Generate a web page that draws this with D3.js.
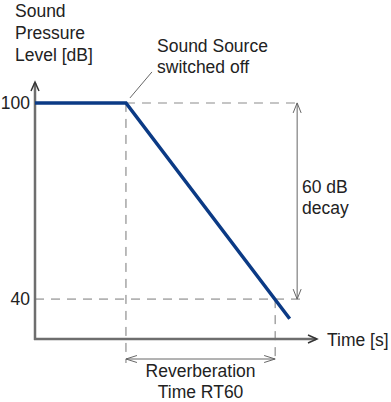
<!DOCTYPE html>
<html><head><meta charset="utf-8">
<script src="https://cdn.jsdelivr.net/npm/d3@7"></script>
<style>
html,body{margin:0;padding:0;background:#fff;}
text{font-family:"Liberation Sans",Arial,sans-serif;fill:#222;}
</style></head>
<body><svg id="c" width="391" height="402"></svg>
<script>
// Data
const times = [0, 1.0, 2.8];           // time (arbitrary units)
const levels = [100, 100, 34];         // sound pressure level [dB]
const levelTicks = [40, 100];
const switchOffTime = 1.0;
const rt60EndTime = 2.64;
const decayTop = 100, decayBottom = 40;
const yTitle = ["Sound", "Pressure", "Level [dB]"];
const xTitle = "Time [s]";
const noteSwitch = ["Sound Source", "switched off"];
const noteDecay = ["60 dB", "decay"];
const noteRT = ["Reverberation", "Time RT60"];

const svg = d3.select("#c");
const x = d3.scaleLinear().domain([0, 3.1]).range([35, 317]);
const y = d3.scaleLinear().domain([27.8, 106.4]).range([339, 82]);

const dimColor = "#666", dashColor = "#b3b3b3", axisColor = "#6e6e6e";

// dashed guide lines
const g = svg.append("g");
g.append("line").attr("x1", x(switchOffTime)).attr("x2", x(rt60EndTime) + 22)
  .attr("y1", y(decayTop)).attr("y2", y(decayTop))
  .attr("stroke", dashColor).attr("stroke-width", 1.6).attr("stroke-dasharray", "9,7");
g.append("line").attr("x1", x(0)).attr("x2", x(rt60EndTime) + 28)
  .attr("y1", y(decayBottom)).attr("y2", y(decayBottom))
  .attr("stroke", dashColor).attr("stroke-width", 1.6).attr("stroke-dasharray", "9,7");
g.append("line").attr("x1", x(switchOffTime)).attr("x2", x(switchOffTime))
  .attr("y1", y(decayTop)).attr("y2", 363)
  .attr("stroke", "#777").attr("stroke-width", 1).attr("stroke-dasharray", "9,7");
g.append("line").attr("x1", x(rt60EndTime)).attr("x2", x(rt60EndTime))
  .attr("y1", y(decayBottom)).attr("y2", 363)
  .attr("stroke", "#777").attr("stroke-width", 1).attr("stroke-dasharray", "9,7");

// axes
svg.append("line").attr("x1", x(0)).attr("x2", x(0)).attr("y1", y.range()[0] + 1).attr("y2", y.range()[1] + 1)
  .attr("stroke", axisColor).attr("stroke-width", 2.5);
svg.append("line").attr("x1", x(0) - 1).attr("x2", x.range()[1] - 1).attr("y1", y.range()[0]).attr("y2", y.range()[0])
  .attr("stroke", axisColor).attr("stroke-width", 2.5);
function chevron(px, py, dir, len, half, color, w) {
  let pts;
  if (dir === "up") pts = [[px - half, py + len], [px, py], [px + half, py + len]];
  if (dir === "down") pts = [[px - half, py - len], [px, py], [px + half, py - len]];
  if (dir === "left") pts = [[px + len, py - half], [px, py], [px + len, py + half]];
  if (dir === "right") pts = [[px - len, py - half], [px, py], [px - len, py + half]];
  svg.append("path").attr("d", d3.line()(pts)).attr("fill", "none")
    .attr("stroke", color).attr("stroke-width", w).attr("stroke-linejoin", "miter");
}
chevron(x(0), y.range()[1], "up", 9, 4, "#333", 1.5);
chevron(x.range()[1], y.range()[0], "right", 9, 4, "#333", 1.5);

// y tick labels
const ay = svg.append("g").attr("transform", `translate(${x(0)},0)`)
  .call(d3.axisLeft(y).tickValues(levelTicks).tickSize(0).tickPadding(5).tickFormat(d3.format("d")));
ay.select(".domain").remove();
ay.selectAll("text").attr("font-size", 17.5).attr("font-family", "Liberation Sans, Arial, sans-serif").attr("fill", "#222");

// data line
const pts = times.map((t, i) => [x(t), y(levels[i])]);
svg.append("path").attr("d", d3.line()(pts)).attr("fill", "none")
  .attr("stroke", "#0b3a85").attr("stroke-width", 3.5).attr("stroke-linejoin", "miter");

// 60 dB dimension arrow
const dx = x(rt60EndTime) + 22;
svg.append("line").attr("x1", dx).attr("x2", dx).attr("y1", y(decayTop)).attr("y2", y(decayBottom))
  .attr("stroke", dimColor).attr("stroke-width", 1);
chevron(dx, y(decayTop), "up", 10, 4, dimColor, 1);
chevron(dx, y(decayBottom), "down", 10, 4, dimColor, 1);

// RT60 dimension arrow
const ry = 359;
svg.append("line").attr("x1", x(switchOffTime)).attr("x2", x(rt60EndTime)).attr("y1", ry).attr("y2", ry)
  .attr("stroke", dimColor).attr("stroke-width", 1);
chevron(x(switchOffTime), ry, "left", 11, 3.5, dimColor, 1);
chevron(x(rt60EndTime), ry, "right", 11, 3.5, dimColor, 1);

// leader line for switch-off note
svg.append("line").attr("x1", x(switchOffTime) + 4).attr("y1", y(decayTop) - 5)
  .attr("x2", x(switchOffTime) + 26).attr("y2", y(decayTop) - 31)
  .attr("stroke", dimColor).attr("stroke-width", 1);

// texts
const fs = 17.5;
function lines(arr, tx, ty, lh, anchor) {
  const t = svg.append("text").attr("font-size", fs).attr("text-anchor", anchor || "start");
  arr.forEach((s, i) => t.append("tspan").attr("x", tx).attr("y", ty + i * lh).text(s));
}
lines(yTitle, 15, 17, 22);
lines(noteSwitch, 157, 52, 21);
lines(noteDecay, 302, 193, 21);
lines(noteRT, (x(switchOffTime) + x(rt60EndTime)) / 2, 377, 21, "middle");
svg.append("text").attr("x", 327).attr("y", 346).attr("font-size", fs).text(xTitle);
</script></body></html>
